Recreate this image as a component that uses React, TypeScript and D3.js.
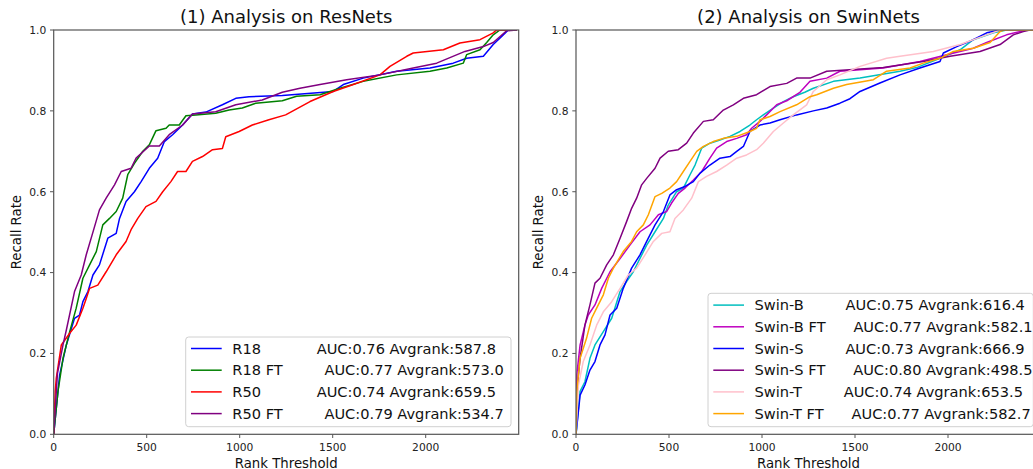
import React from 'react';
import * as d3 from 'd3';

// rank threshold vs recall
const r18: [number, number][] = [
  [0, 0], [32, 0.147], [68, 0.221], [112, 0.287], [139, 0.295], [157, 0.328], [184, 0.353], [211, 0.394],
  [246, 0.419], [291, 0.485], [336, 0.497], [354, 0.534], [389, 0.576], [434, 0.6], [470, 0.625],
  [514, 0.658], [559, 0.683], [595, 0.724], [639, 0.741], [693, 0.765], [746, 0.792], [818, 0.797],
  [907, 0.815], [979, 0.831], [1050, 0.835], [1229, 0.838], [1503, 0.848], [1557, 0.865], [1664, 0.881],
  [1844, 0.898], [2023, 0.906], [2148, 0.918], [2220, 0.93], [2310, 0.935], [2363, 0.964], [2417, 0.988],
  [2444, 1.0], [2490, 1.0],
];
const r18ft: [number, number][] = [
  [0, 0], [23, 0.106], [50, 0.188], [86, 0.254], [121, 0.312], [157, 0.386], [193, 0.419], [229, 0.452],
  [264, 0.518], [300, 0.534], [336, 0.551], [371, 0.584], [398, 0.642], [434, 0.67], [479, 0.7],
  [514, 0.716], [550, 0.751], [604, 0.757], [621, 0.765], [675, 0.765], [711, 0.788], [764, 0.79],
  [871, 0.794], [943, 0.802], [1014, 0.807], [1086, 0.819], [1229, 0.825], [1306, 0.836], [1432, 0.84],
  [1539, 0.856], [1664, 0.873], [1844, 0.889], [2023, 0.898], [2113, 0.906], [2202, 0.918], [2220, 0.939],
  [2292, 0.951], [2328, 0.969], [2363, 0.988], [2399, 1.0], [2490, 1.0],
];
const r50: [number, number][] = [
  [0, 0], [8, 0.106], [14, 0.139], [41, 0.221], [86, 0.25], [121, 0.27], [157, 0.312], [175, 0.336],
  [193, 0.361], [237, 0.369], [282, 0.402], [336, 0.444], [389, 0.477], [416, 0.506], [452, 0.534],
  [496, 0.563], [550, 0.576], [586, 0.6], [630, 0.625], [666, 0.65], [711, 0.65], [746, 0.675],
  [800, 0.687], [854, 0.704], [907, 0.707], [925, 0.736], [997, 0.749], [1068, 0.765], [1157, 0.778],
  [1247, 0.79], [1378, 0.823], [1503, 0.848], [1611, 0.865], [1754, 0.889], [1808, 0.91], [1898, 0.935],
  [1933, 0.943], [2095, 0.951], [2184, 0.968], [2292, 0.976], [2363, 0.993], [2381, 1.0], [2490, 1.0],
];
const r50ft: [number, number][] = [
  [0, 0], [20, 0.15], [50, 0.221], [68, 0.258], [112, 0.353], [148, 0.394], [175, 0.444], [211, 0.5],
  [246, 0.555], [282, 0.584], [327, 0.617], [363, 0.65], [416, 0.658], [443, 0.683], [514, 0.713],
  [568, 0.713], [621, 0.741], [693, 0.765], [746, 0.792], [871, 0.798], [979, 0.815], [1121, 0.827],
  [1229, 0.846], [1324, 0.856], [1432, 0.865], [1575, 0.877], [1754, 0.889], [1933, 0.906], [2059, 0.918],
  [2211, 0.947], [2310, 0.959], [2363, 0.969], [2435, 0.998], [2490, 1.0],
];

const swinB: [number, number][] = [
  [0, 0], [22, 0.106], [48, 0.13], [75, 0.188], [102, 0.221], [147, 0.254], [192, 0.287], [237, 0.353],
  [272, 0.378], [308, 0.402], [344, 0.435], [380, 0.468], [425, 0.501], [470, 0.534], [496, 0.567],
  [541, 0.6], [577, 0.609], [613, 0.642], [640, 0.666], [676, 0.708], [720, 0.72], [774, 0.728],
  [828, 0.737], [882, 0.749], [935, 0.765], [971, 0.778], [1007, 0.79], [1061, 0.807], [1115, 0.823],
  [1168, 0.835], [1230, 0.846], [1276, 0.856], [1384, 0.873], [1527, 0.881], [1742, 0.898], [1831, 0.907],
  [1957, 0.93], [2065, 0.951], [2136, 0.976], [2244, 0.993], [2315, 1.0], [2490, 1.0],
];
const swinBft: [number, number][] = [
  [0, 0], [4, 0.147], [22, 0.221], [48, 0.27], [66, 0.295], [102, 0.32], [138, 0.361], [183, 0.402],
  [237, 0.435], [290, 0.468], [344, 0.501], [398, 0.518], [443, 0.543], [487, 0.551], [514, 0.572],
  [550, 0.596], [586, 0.609], [631, 0.629], [676, 0.65], [720, 0.683], [756, 0.708], [810, 0.724],
  [864, 0.732], [917, 0.741], [944, 0.757], [989, 0.774], [1025, 0.79], [1079, 0.815], [1133, 0.825],
  [1204, 0.846], [1258, 0.873], [1348, 0.881], [1419, 0.898], [1652, 0.906], [1849, 0.922], [1993, 0.939],
  [2136, 0.955], [2208, 0.969], [2315, 0.988], [2423, 1.0], [2490, 1.0],
];
const swinS: [number, number][] = [
  [0, 0], [22, 0.097], [48, 0.122], [75, 0.159], [102, 0.18], [129, 0.221], [156, 0.246], [183, 0.295],
  [219, 0.312], [254, 0.361], [299, 0.411], [344, 0.444], [380, 0.477], [425, 0.518], [470, 0.551],
  [505, 0.592], [541, 0.605], [586, 0.613], [631, 0.625], [667, 0.646], [720, 0.666], [774, 0.683],
  [828, 0.687], [864, 0.7], [900, 0.712], [935, 0.749], [989, 0.765], [1043, 0.77], [1097, 0.778],
  [1186, 0.79], [1276, 0.8], [1348, 0.807], [1419, 0.819], [1473, 0.83], [1527, 0.848], [1634, 0.869],
  [1742, 0.889], [1849, 0.906], [1957, 0.922], [1975, 0.943], [2047, 0.959], [2136, 0.976], [2208, 0.993],
  [2280, 1.0], [2490, 1.0],
];
const swinSft: [number, number][] = [
  [0, 0], [4, 0.106], [22, 0.188], [48, 0.27], [75, 0.32], [102, 0.374], [129, 0.386], [165, 0.419],
  [201, 0.444], [237, 0.485], [272, 0.526], [299, 0.559], [326, 0.584], [353, 0.617], [380, 0.633],
  [425, 0.658], [452, 0.683], [496, 0.7], [550, 0.704], [595, 0.72], [631, 0.745], [685, 0.774],
  [738, 0.778], [792, 0.802], [846, 0.815], [900, 0.831], [971, 0.84], [1043, 0.86], [1133, 0.868],
  [1186, 0.881], [1258, 0.881], [1348, 0.898], [1652, 0.907], [1867, 0.922], [2011, 0.935], [2172, 0.947],
  [2280, 0.964], [2351, 0.988], [2405, 0.996], [2440, 1.0], [2490, 1.0],
];
const swinT: [number, number][] = [
  [0, 0], [13, 0.122], [39, 0.18], [75, 0.221], [111, 0.27], [147, 0.303], [192, 0.328], [237, 0.361],
  [281, 0.394], [326, 0.411], [371, 0.444], [416, 0.477], [461, 0.497], [505, 0.501], [532, 0.534],
  [577, 0.555], [622, 0.584], [658, 0.625], [702, 0.638], [756, 0.65], [810, 0.666], [864, 0.683],
  [917, 0.691], [971, 0.704], [1007, 0.72], [1061, 0.749], [1115, 0.77], [1168, 0.79], [1240, 0.815],
  [1276, 0.848], [1348, 0.877], [1419, 0.889], [1527, 0.91], [1670, 0.93], [1742, 0.935], [1921, 0.947],
  [2065, 0.964], [2208, 0.988], [2280, 1.0], [2490, 1.0],
];
const swinTft: [number, number][] = [
  [0, 0], [4, 0.106], [22, 0.188], [57, 0.238], [84, 0.287], [111, 0.312], [147, 0.345], [174, 0.386],
  [201, 0.411], [254, 0.452], [299, 0.477], [326, 0.501], [362, 0.518], [389, 0.543], [425, 0.588],
  [461, 0.596], [505, 0.609], [541, 0.625], [577, 0.65], [613, 0.675], [649, 0.7], [685, 0.712],
  [738, 0.724], [792, 0.732], [864, 0.737], [935, 0.749], [971, 0.757], [989, 0.778], [1043, 0.786],
  [1097, 0.798], [1186, 0.815], [1258, 0.835], [1294, 0.84], [1384, 0.856], [1455, 0.865], [1599, 0.877],
  [1670, 0.898], [1796, 0.906], [1867, 0.918], [1957, 0.93], [2029, 0.947], [2136, 0.955], [2226, 0.969],
  [2280, 0.996], [2300, 1.0], [2490, 1.0],
];

const resNames = ['R18', 'R18 FT', 'R50', 'R50 FT'];
const resAuc = ['0.76', '0.77', '0.74', '0.79'];
const resRank = ['587.8', '573.0', '659.5', '534.7'];
const resColors = ['#0000ff', '#008000', '#ff0000', '#800080'];
const resData = [r18, r18ft, r50, r50ft];

const swinNames = ['Swin-B', 'Swin-B FT', 'Swin-S', 'Swin-S FT', 'Swin-T', 'Swin-T FT'];
const swinAuc = ['0.75', '0.77', '0.73', '0.80', '0.74', '0.77'];
const swinRank = ['616.4', '582.1', '666.9', '498.5', '653.5', '582.7'];
const swinColors = ['#00bfbf', '#bf00bf', '#0000ff', '#800080', '#ffc0cb', '#ffa500'];
const swinData = [swinB, swinBft, swinS, swinSft, swinT, swinTft];

const xTicks = [0, 500, 1000, 1500, 2000];
const yTicks = [0, 0.2, 0.4, 0.6, 0.8, 1.0];

const FONT = 'DejaVu Sans, sans-serif';
const TOP = 30;
const BOTTOM = 434.3;
const AXW = 465;

type PanelProps = {
  id: string;
  left: number;
  title: string;
  names: string[];
  auc: string[];
  rank: string[];
  colors: string[];
  data: [number, number][][];
  legendTop: number;
};

const Panel = ({ id, left, title, names, auc, rank, colors, data, legendTop }: PanelProps) => {
  const x = d3.scaleLinear().domain([0, 2500]).range([left, left + AXW]);
  const y = d3.scaleLinear().domain([0, 1]).range([BOTTOM, TOP]);
  const line = d3.line<[number, number]>()
    .x(d => x(d[0]))
    .y(d => y(d[1]));

  const rowH = 21.7;
  const legLeft = left + AXW - 7.7 - 325.3;
  const legBottom = BOTTOM - 7.6;
  const legH = legBottom - legendTop;

  return (
    <g>
      <defs>
        <clipPath id={id}>
          <rect x={left} y={TOP} width={AXW} height={BOTTOM - TOP} />
        </clipPath>
      </defs>
      <g clipPath={`url(#${id})`}>
        {data.map((d, i) => (
          <path key={i} d={line(d) || ''} fill="none" stroke={colors[i]} strokeWidth={1.5} strokeLinejoin="round" />
        ))}
      </g>
      <rect x={left} y={TOP} width={AXW} height={BOTTOM - TOP} fill="none" stroke="#555" strokeWidth={1.2} />

      {xTicks.map(t => (
        <g key={t}>
          <line x1={x(t)} x2={x(t)} y1={BOTTOM} y2={BOTTOM + 3.7} stroke="#555" strokeWidth={1} />
          <text x={x(t)} y={450.5} textAnchor="middle" fontSize={10.7} fontFamily={FONT} fill="#222">{t}</text>
        </g>
      ))}
      {yTicks.map(t => (
        <g key={t}>
          <line x1={left - 3.7} x2={left} y1={y(t)} y2={y(t)} stroke="#555" strokeWidth={1} />
          <text x={left - 7.5} y={y(t) + 3.9} textAnchor="end" fontSize={10.7} fontFamily={FONT} fill="#222">{t.toFixed(1)}</text>
        </g>
      ))}

      <text x={left + AXW / 2} y={23} textAnchor="middle" fontSize={18} fontFamily={FONT} fill="#111">{title}</text>
      <text x={left + AXW / 2} y={467.5} textAnchor="middle" fontSize={13.3} fontFamily={FONT} fill="#111">Rank Threshold</text>
      <text transform={`translate(${left - 33},${(TOP + BOTTOM) / 2}) rotate(-90)`} textAnchor="middle" fontSize={13.3} fontFamily={FONT} fill="#111">Recall Rate</text>

      <rect x={legLeft} y={legendTop} width={325.3} height={legH} rx={3} fill="#fff" fillOpacity={0.8} stroke="#d0d0d0" strokeWidth={1} />
      {names.map((n, i) => {
        const cy = legBottom - 13.1 - (names.length - 1 - i) * rowH;
        return (
          <g key={n}>
            <line x1={legLeft + 5.3} x2={legLeft + 36} y1={cy} y2={cy} stroke={colors[i]} strokeWidth={1.5} />
            <text x={legLeft + 46.6} y={cy + 5.2} fontSize={14.6} fontFamily={FONT} fill="#111" style={{ whiteSpace: 'pre' }}>
              {`${n.padEnd(15)}AUC:${auc[i]} Avgrank:${rank[i]}`}
            </text>
          </g>
        );
      })}
    </g>
  );
};

export default function App() {
  return (
    <svg width={1033} height={469} style={{ position: 'absolute', left: 0, top: 0, background: '#fff' }}>
      <Panel id="c1" left={53.7} title="(1) Analysis on ResNets" names={resNames} auc={resAuc} rank={resRank}
        colors={resColors} data={resData} legendTop={337} />
      <Panel id="c2" left={576} title="(2) Analysis on SwinNets" names={swinNames} auc={swinAuc} rank={swinRank}
        colors={swinColors} data={swinData} legendTop={293.3} />
    </svg>
  );
}
